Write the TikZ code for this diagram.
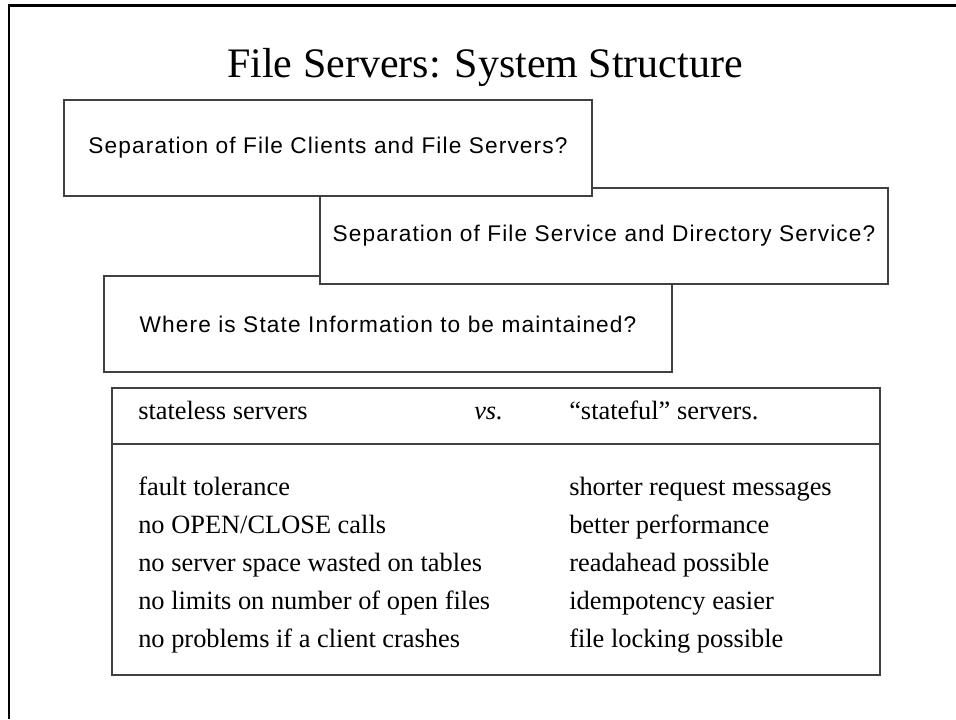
\documentclass[tikz,border=0pt]{standalone}
\usepackage{fontspec}
\setmainfont{Liberation Serif}
\newfontfamily\qfont[LetterSpace=5]{Liberation Sans}

\tikzset{
  question/.style={draw=black!75, fill=white, line width=0.9pt, inner sep=0pt,
    minimum height=72pt, font=\qfont\fontsize{17}{20}\selectfont},
  cell/.style={anchor=base west, inner sep=0pt, font=\fontsize{19.8}{23}\selectfont}
}

\begin{document}
\begin{tikzpicture}[x=0.75pt, y=-0.75pt]

	\useasboundingbox (0,0) rectangle (956,719);

	% slide frame
	\draw[line width=1.6pt] (9,719) -- (9,5.5) -- (956,5.5);

	\node[font=\fontsize{31.5}{36}\selectfont, anchor=base] (title) at (485,77) {File Servers: System Structure};

	% the three questions, back to front
	\node[question, minimum width=426pt] (where) at (388,324) {Where is State Information to be maintained?};
	\node[question, minimum width=426pt] (dirsep) at (604,236) {Separation of File Service and Directory Service?};
	\node[question, minimum width=396pt] (clisep) at (328,148) {Separation of File Clients and File Servers?};

	% stateless vs. stateful
	\node[draw=black!75, line width=0.9pt, minimum width=576pt, minimum height=215.25pt] (cmp) at (496,531.5) {};
	\draw[black!75, line width=0.9pt] (cmp.west |- 0,444) -- (cmp.east |- 0,444);

	\node[cell] (hleft) at (138,419) {stateless servers};
	\node[cell] (hvs) at (474,419) {\textit{vs.}};
	\node[cell] (hright) at (569,419) {“stateful” servers.};

	\foreach \i/\lt/\rt in {0/{fault tolerance}/{shorter request messages},
	                        1/{no OPEN/CLOSE calls}/{better performance},
	                        2/{no server space wasted on tables}/{readahead possible},
	                        3/{no limits on number of open files}/{idempotency easier},
	                        4/{no problems if a client crashes}/{file locking possible}}{
		\pgfmathsetmacro{\ypos}{495+38.2*\i}
		\node[cell] (l\i) at (138,\ypos) {\lt};
		\node[cell] (r\i) at (569,\ypos) {\rt};
	}

\end{tikzpicture}
\end{document}
